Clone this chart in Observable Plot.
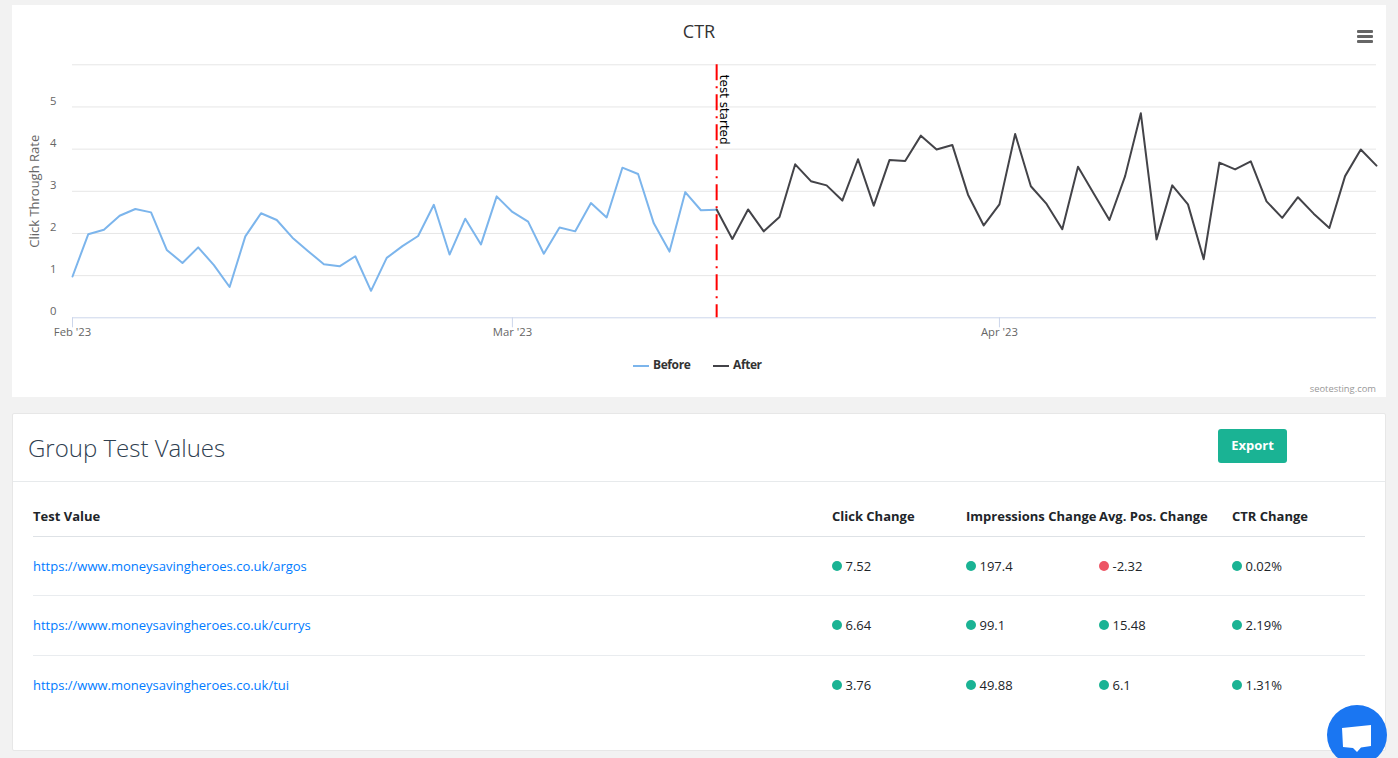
<!DOCTYPE html>
<html>
<head>
<meta charset="utf-8">
<script src="https://cdn.jsdelivr.net/npm/d3@7"></script>
<script src="https://cdn.jsdelivr.net/npm/@observablehq/plot@0.6"></script>
<style>
html,body{margin:0;padding:0;width:1398px;height:758px;overflow:hidden;background:#f2f2f2;font-family:"Open Sans",sans-serif;}
.abs{position:absolute;}
#chartCard{left:12px;top:5px;width:1374px;height:392px;background:#fff;}
#chartCard svg.plot{display:block;position:absolute;left:0;top:0;background:transparent;}
#title{left:0;width:1374px;text-align:center;top:14px;font-size:18px;line-height:24px;color:#333;}
.bar{position:absolute;left:1345px;width:16px;height:3px;background:#666;border-radius:1px;}
.legendLine{position:absolute;top:359.5px;width:16px;height:2px;}
.legendText{position:absolute;top:351px;font-size:12px;letter-spacing:-0.4px;line-height:18px;font-weight:700;color:#333;}
#credit{right:10px;top:378px;font-size:9.4px;line-height:12px;color:#999;}
#tableCard{left:12px;top:413px;width:1372px;height:336px;background:#fff;border:1px solid #e7e7e7;border-radius:2px;}
#heading{left:15px;top:17px;font-size:24px;font-weight:300;line-height:34px;color:#2f4050;}
#headRule{left:0;right:0;top:67px;height:1px;background:#e7eaec;}
#export{left:1205px;top:15px;width:69px;height:34px;background:#1ab394;border-radius:3px;color:#fff;font-size:13px;font-weight:700;line-height:33px;text-align:center;}
table{position:absolute;left:20px;top:82px;width:1332px;border-collapse:collapse;table-layout:fixed;font-size:13px;color:#212529;}
th{font-weight:700;text-align:left;padding:0;height:40px;border-bottom:1px solid #dee2e6;white-space:nowrap;color:#212529;}
td{box-sizing:border-box;padding:0 0 2px 0;height:60px;border-bottom:1px solid #e9ecef;white-space:nowrap;}
tbody tr:first-child td{height:59px;padding-bottom:1px;}
tr:last-child td{border-bottom:none;}
td a{color:#007bff;text-decoration:none;}
.dot{display:inline-block;width:10px;height:10px;border-radius:50%;margin-right:3.5px;position:relative;top:0;vertical-align:baseline;}
#chat{left:1327px;top:705px;}
</style>
</head>
<body>
<div id="chartCard" class="abs">
  <div id="title" class="abs"></div>
  <div class="bar" style="top:25px"></div>
  <div class="bar" style="top:30px"></div>
  <div class="bar" style="top:35px"></div>
  <div class="legendLine" style="left:621px;background:#7cb5ec"></div>
  <div class="legendText" style="left:641px" id="lgA"></div>
  <div class="legendLine" style="left:701px;background:#434348"></div>
  <div class="legendText" style="left:721px" id="lgB"></div>
  <div id="credit" class="abs"></div>
</div>
<div id="tableCard" class="abs">
  <div id="heading" class="abs"></div>
  <div id="export" class="abs"></div>
  <div id="headRule" class="abs"></div>
  <table id="tbl"></table>
</div>
<svg id="chat" class="abs" width="60" height="60" viewBox="0 0 60 60">
  <circle cx="30" cy="30" r="30" fill="#1a76f2"></circle>
  <path d="M15 23 L44 20 L44 41 L34 42.5 L30 47 L26 43 L16 42 Z" fill="#fff"></path>
</svg>
<script>
const chartTitle = "CTR";
const yLabel = "Click Through Rate";
const seriesNames = ["Before", "After"];
const annotation = "test started";
const startDate = "2023-02-01";
const testDay = "2023-03-14";
const monthTicks = ["2023-02-01", "2023-03-01", "2023-04-01"];
const yTickLabels = [0, 1, 2, 3, 4, 5];
const yGrid = [0, 1, 2, 3, 4, 5, 6];

const beforeValues = [0.98,1.98,2.09,2.42,2.58,2.50,1.61,1.30,1.67,1.25,0.73,1.93,2.48,2.32,1.90,1.58,1.27,1.22,1.46,0.64,1.42,1.70,1.94,2.68,1.50,2.35,1.74,2.88,2.51,2.28,1.52,2.14,2.05,2.72,2.38,3.56,3.41,2.24,1.57,2.98,2.55,2.56];
const afterValues = [2.57,1.87,2.57,2.05,2.39,3.64,3.24,3.14,2.78,3.76,2.66,3.74,3.72,4.32,3.99,4.10,2.92,2.19,2.69,4.36,3.12,2.70,2.10,3.58,2.95,2.32,3.36,4.85,1.86,3.14,2.69,1.39,3.68,3.52,3.71,2.76,2.37,2.86,2.47,2.13,3.36,3.99,3.61];

const tableHeaders = ["Test Value", "Click Change", "Impressions Change", "Avg. Pos. Change", "CTR Change"];
const testUrls = ["https://www.moneysavingheroes.co.uk/argos","https://www.moneysavingheroes.co.uk/currys","https://www.moneysavingheroes.co.uk/tui"];
const clickChange = ["7.52","6.64","3.76"];
const impressionsChange = ["197.4","99.1","49.88"];
const positionChange = ["-2.32","15.48","6.1"];
const ctrChange = ["0.02%","2.19%","1.31%"];

const t0 = new Date(startDate);
const testDate = new Date(testDay);
const offset = d3.utcDay.count(t0, testDate);
const before = beforeValues.map((v, i) => ({date: d3.utcDay.offset(t0, i), v}));
const after = afterValues.map((v, i) => ({date: d3.utcDay.offset(t0, offset + i), v}));
const lastDate = after[after.length - 1].date;

const plot = Plot.plot({
  width: 1374, height: 392,
  marginLeft: 60, marginRight: 10, marginTop: 59.3, marginBottom: 79.7,
  style: {fontFamily: '"Open Sans", sans-serif', fontSize: "11.3px", color: "#666", background: "transparent"},
  x: {type: "utc", domain: [t0, lastDate]},
  y: {domain: [0, 6]},
  marks: [
    Plot.ruleY(yGrid.slice(1), {stroke: "#e6e6e6", strokeWidth: 1}),
    Plot.ruleY([0], {stroke: "#ccd6eb", strokeWidth: 1}),
    Plot.axisX({ticks: monthTicks.map(d => new Date(d)), tickFormat: d3.utcFormat("%b '%y"), tickSize: 10, tickPadding: 0, stroke: "#ccd6eb", fill: "#666", label: null}),
    Plot.axisY({ticks: yTickLabels, tickFormat: d => String(d), tickSize: 0, tickPadding: 16, dy: -6, fill: "#666", label: null}),
    Plot.text([yLabel], {frameAnchor: "left", dx: -38, rotate: -90, textAnchor: "middle", fill: "#666", fontSize: 13}),
    Plot.line(before, {x: "date", y: "v", stroke: "#7cb5ec", strokeWidth: 2}),
    Plot.ruleX([testDate], {stroke: "#ff0000", strokeWidth: 2, strokeDasharray: "16 6 2 6"}),
    Plot.line(after, {x: "date", y: "v", stroke: "#434348", strokeWidth: 2}),
    Plot.text([annotation], {x: () => testDate, frameAnchor: "top", dx: 12, dy: 10, rotate: 90, textAnchor: "start", fill: "#000", fontSize: 12, fontFamily: '"DejaVu Sans", sans-serif'})
  ]
});
document.getElementById("chartCard").prepend(plot);

document.getElementById("title").textContent = chartTitle;
document.getElementById("lgA").textContent = seriesNames[0];
document.getElementById("lgB").textContent = seriesNames[1];
document.getElementById("credit").textContent = "seotesting.com";
document.getElementById("heading").textContent = "Group Test Values";
document.getElementById("export").textContent = "Export";

const colWidths = [799, 134, 133, 133, 133];
const tbl = document.getElementById("tbl");
const cell = v => {
  const neg = v.startsWith("-");
  return `<td><span class="dot" style="background:${neg ? "#ed5565" : "#1ab394"}"></span>${v}</td>`;
};
tbl.innerHTML =
  `<colgroup>${colWidths.map(w => `<col style="width:${w}px">`).join("")}</colgroup>` +
  `<thead><tr>${tableHeaders.map(h => `<th>${h}</th>`).join("")}</tr></thead>` +
  `<tbody>${testUrls.map((u, i) => `<tr><td><a href="#">${u}</a></td>${cell(clickChange[i])}${cell(impressionsChange[i])}${cell(positionChange[i])}${cell(ctrChange[i])}</tr>`).join("")}</tbody>`;
</script>
</body>
</html>
